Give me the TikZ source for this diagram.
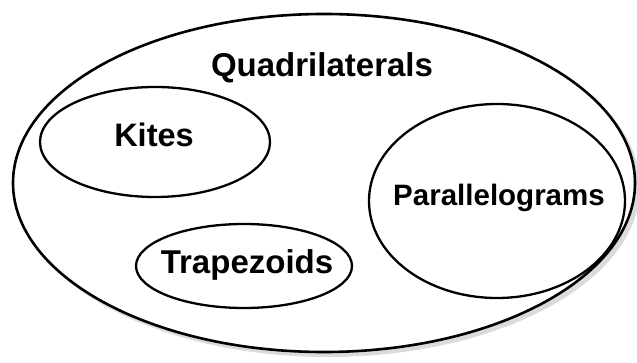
\documentclass[tikz,border=0pt]{standalone}
\usepackage{fontspec}
\setmainfont{Liberation Sans}
\begin{document}
\begin{tikzpicture}[x=1pt,y=-1pt,
  outerline/.style={line width=2.6pt,draw=black,fill=white},
  innerline/.style={line width=2.3pt,draw=black},
  shadowfill/.style={fill=black!14,draw=none},
  lbl/.style={font=\bfseries,inner sep=0pt,anchor=base}]
\useasboundingbox (0,0) rectangle (637,363);
\clip (0,0) rectangle (637,363);
\fill[shadowfill] (328,187) ellipse [x radius=312, y radius=170];
\draw[outerline] (324,183) ellipse [x radius=311, y radius=169];
\draw[innerline] (155,142) ellipse [x radius=115, y radius=55];
\draw[innerline] (244,266) ellipse [x radius=108, y radius=42];
\draw[innerline] (497,201) ellipse [x radius=128, y radius=97];
\node[lbl] (quad) at (322,77) {\fontsize{33}{33}\selectfont Quadrilaterals};
\node[lbl] (kites) at (154,147) {\fontsize{32.5}{33}\selectfont Kites};
\node[lbl] (trap) at (247,273) {\fontsize{33}{33}\selectfont Trapezoids};
\node[lbl] (para) at (499,206) {\fontsize{29.5}{30}\selectfont Parallelograms};
\end{tikzpicture}
\end{document}
